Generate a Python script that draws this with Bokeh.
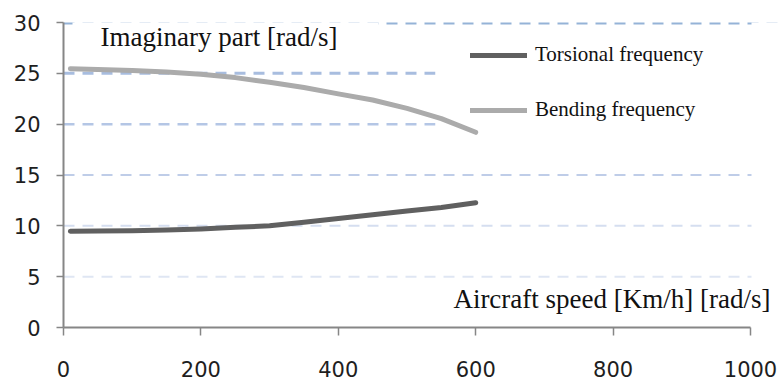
from bokeh.plotting import figure
from bokeh.models import Span, BoxAnnotation, Label, Legend, LegendItem, Range1d
from bokeh.embed import file_html
from bokeh.resources import INLINE

# ---- data ----
speed = [10, 50, 100, 150, 200, 250, 300, 350, 400, 450, 500, 550, 600]
torsional = [9.46, 9.48, 9.52, 9.60, 9.70, 9.86, 10.0, 10.35, 10.72, 11.08, 11.45, 11.80, 12.28]
bending = [25.45, 25.38, 25.27, 25.12, 24.92, 24.58, 24.12, 23.60, 22.98, 22.38, 21.55, 20.55, 19.20]
series_names = ["Torsional frequency", "Bending frequency"]
x_ticks = [0, 200, 400, 600, 800, 1000]
y_ticks = [0, 5, 10, 15, 20, 25, 30]
grid_levels = [5, 10, 15, 20, 25, 30]

# ---- styles ----
grid_colors = ["#dfe6f3", "#d5def0", "#bfcde8", "#b4c6e5", "#a8bddf", "#95b3d7"]
grid_widths = [2, 2, 2, 2.5, 3, 4]
line_colors = ["#606060", "#ababab"]

# frame runs from x=63 to the right edge; the axis itself stops at 1000 (x=750)
x_end = x_ticks[-1] * 717 / 687
p = figure(width=780, height=385, x_range=Range1d(0, x_end), y_range=Range1d(0, 30),
           output_backend="svg", toolbar_location=None,
           min_border_left=63, min_border_right=0, min_border_top=22, min_border_bottom=58)
p.outline_line_color = None
p.xgrid.visible = False
p.ygrid.visible = False
p.background_fill_color = "white"
p.border_fill_color = "white"

for ax, ticks, tout in ((p.xaxis, x_ticks, 8), (p.yaxis, y_ticks, 7)):
    ax.ticker = ticks
    ax.axis_line_color = "#868686"
    ax.axis_line_width = 2
    ax.major_tick_line_color = "#868686"
    ax.major_tick_line_width = 1.5
    ax.major_tick_out = tout
    ax.major_tick_in = 0
    ax.minor_tick_line_color = None
    ax.major_label_text_font = "DejaVu Sans"
    ax.major_label_text_font_size = "21px"
    ax.major_label_text_color = "#1e1e1e"
p.xaxis.bounds = (x_ticks[0], x_ticks[-1])
p.xaxis.major_label_standoff = 25
p.yaxis.major_label_standoff = 16

for lvl, c, w in zip(grid_levels, grid_colors, grid_widths):
    p.add_layout(Span(location=lvl, dimension="width", line_color=c, line_width=w,
                      line_dash="11 8", level="underlay"))

# white backgrounds: title box, legend box, and the strip right of the axis end
for l, r, t, b in ((72, 378, 14, 60), (435, 780, 36, 150), (751, 780, 0, 330)):
    p.add_layout(BoxAnnotation(left=l, right=r, top=t, bottom=b,
                               left_units="canvas", right_units="canvas",
                               top_units="canvas", bottom_units="canvas",
                               fill_color="white", fill_alpha=1, line_color=None,
                               level="underlay"))

r1 = p.line(speed, torsional, line_color=line_colors[0], line_width=5,
            line_cap="round", line_join="round")
r2 = p.line(speed, bending, line_color=line_colors[1], line_width=5,
            line_cap="round", line_join="round")

legend = Legend(items=[LegendItem(label=series_names[0], renderers=[r1]),
                       LegendItem(label=series_names[1], renderers=[r2])],
                location=(407, 205), background_fill_alpha=0, border_line_color=None,
                padding=0, margin=0, spacing=30, glyph_width=57, glyph_height=20,
                label_height=20, label_standoff=8,
                label_text_font="Liberation Serif", label_text_font_size="21px",
                label_text_color="#111111")
p.add_layout(legend)

p.add_layout(Label(x=37, y=291, x_units="screen", y_units="screen",
                   text="Imaginary part [rad/s]", text_font="Liberation Serif",
                   text_font_size="27px", text_baseline="alphabetic", text_color="#111111"))
p.add_layout(Label(x=707, y=29, x_units="screen", y_units="screen",
                   text="Aircraft speed [Km/h] [rad/s]", text_font="Liberation Serif",
                   text_font_size="27px", text_baseline="alphabetic", text_align="right",
                   text_color="#111111"))

open("out.html", "w").write(file_html(p, INLINE))
